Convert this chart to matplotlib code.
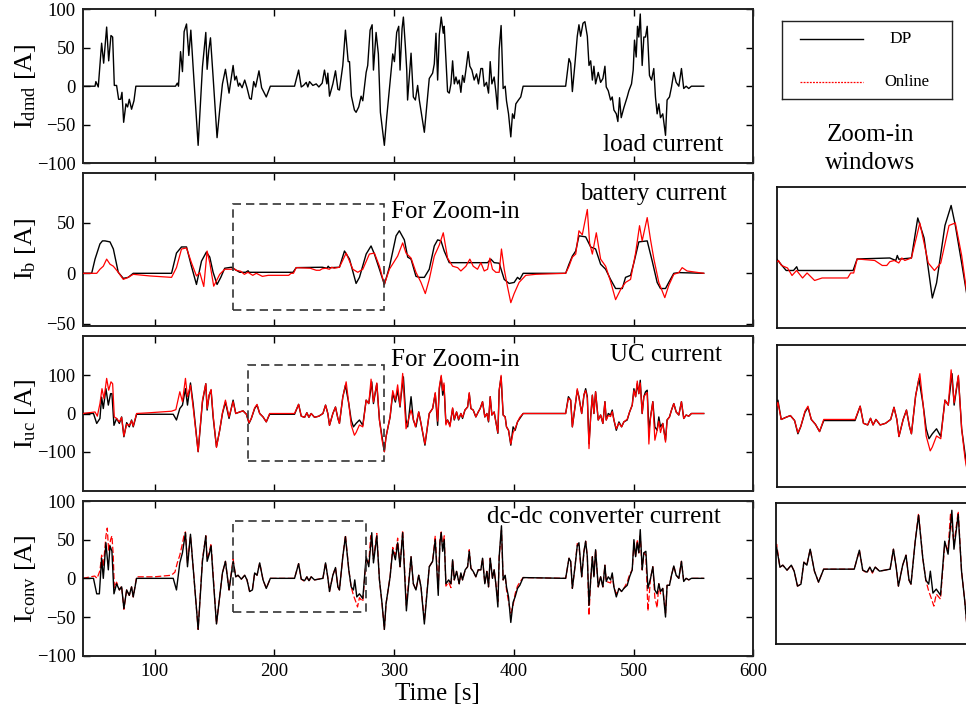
import matplotlib
matplotlib.use("Agg")
import matplotlib.pyplot as plt
from matplotlib.patches import Rectangle
from matplotlib.lines import Line2D

plt.rcParams['font.family'] = ['Liberation Serif', 'DejaVu Serif']
plt.rcParams['mathtext.fontset'] = 'custom'
plt.rcParams['mathtext.rm'] = 'Liberation Serif'
plt.rcParams['mathtext.it'] = 'Liberation Serif:italic'

# ---------------- data (time [s], current [A]) ----------------
load_pts = [(40,0),(50.3,0),(51,6),(53,-1),(55.8,56),(57.5,30),(60,77),(61.7,33),(63.6,66),(65,64),(66.4,1),(68.3,1),(70,-17),(71.7,-17),(72.8,-8),(74.2,-47),(76.1,-23),(77.5,-27),(78.9,-17),(80.8,-30),(82.8,-19),(84.4,0),(117.5,0),(119,4),(120,0),(121.7,45),(123.3,19),(124.7,71),(126.7,81),(128.6,40),(130.3,73),(132.2,25),(136.4,-77),(140,25),(142.8,70),(143.9,22),(145.3,47),(146.7,63),(148.9,12),(152.2,-67),(154.4,-31),(156.7,3),(159.2,22),(162.2,-9),(165.6,27),(167,8),(168.3,13),(170,0),(171.1,4),(173.1,-2),(175.3,8),(177.2,-2),(179.4,-16),(180.8,-17),(182.8,6),(184.4,-1),(187.2,20),(189.4,-2),(193.3,-14),(196.7,0),(216.9,0),(220.3,21),(222.5,-1),(224.4,1),(226.7,5),(228,-1),(229.4,6),(232.2,1),(235,3),(237.2,-1),(240,4),(241.9,21),(243.9,3),(244.7,17),(246.1,-13),(248.9,3),(251.1,20),(253.1,-4),(254.4,-5),(257.2,27),(259.4,73),(261.7,32),(262.8,32),(264.4,-13),(266.9,-31),(268.3,-34),(270.5,-27),(272.5,-13),(273.9,-19),(276.7,18),(278,27),(280,73),(281.7,80),(282.8,21),(285,70),(286.9,42),(288.6,-34),(291.9,-77),(293.9,-40),(297.5,18),(298.9,42),(300.3,32),(302.2,70),(303.9,78),(305,21),(306.7,75),(307.8,90),(309.4,53),(310.6,21),(311.3,-18),(314.2,43),(316.1,-14),(317.8,-18),(319.7,1),(321.1,-18),(325.3,-60),(329.4,10),(332.2,17),(333.6,29),(335,69),(336.4,8),(337.8,67),(339.4,90),(341.1,69),(341.9,78),(344.7,-7),(346.1,-9),(347.5,3),(348.9,33),(350.3,3),(351.7,12),(353.1,3),(354.4,8),(355.8,-8),(357.2,14),(358.6,5),(360,21),(361.9,45),(363.3,26),(365,21),(366.9,8),(368.9,16),(370.5,3),(372.5,23),(373.9,23),(375.3,0),(377.2,5),(378.9,-9),(380.3,32),(381.7,3),(383.6,12),(385,-7),(386.4,-30),(387.8,48),(389.4,79),(391.1,-3),(392.8,0),(393.9,-19),(395.6,-36),(397.5,-66),(398.9,-36),(400.3,-42),(401.7,-23),(403.9,-18),(405.8,-14),(407.8,0),(443.3,0),(446.1,36),(447.5,30),(448.9,-7),(451.1,30),(453,65),(454.4,80),(455.8,65),(457.8,82),(459.4,84),(461.4,65),(462.8,27),(464.2,33),(465.6,8),(466.9,26),(468.3,3),(470.5,18),(472.5,5),(474.4,10),(476.1,26),(477.2,-1),(478.9,-6),(480.8,-18),(482.2,-14),(483.6,-31),(485.6,-36),(486.9,-46),(488.3,-15),(489.7,-41),(491.9,-28),(494.7,-14),(496.1,-6),(498.3,3),(499.7,21),(500.8,60),(502.2,38),(503.3,78),(504.4,64),(505.6,94),(507.2,27),(508.6,64),(510,64),(511.4,78),(513.3,14),(515,8),(516.9,23),(518.3,-14),(519.7,-36),(521.1,-23),(522.5,-41),(524.4,-36),(526.7,-64),(528,-18),(530,-14),(531.7,-1),(533.6,18),(535.6,5),(537.8,0),(540,23),(541.9,-3),(543.9,0),(546.1,-3),(548.3,0),(558.6,0)]

batt_dp_pts = [(40,0),(47.5,0),(50.3,14),(54.4,29),(56.5,32),(58.6,32),(62.8,31),(65.6,24),(69.7,1),(73.9,-5),(78,-4),(82.2,0),(114.2,0),(118.3,20),(122.5,26),(126.7,26),(130.8,7),(135,-11),(139.2,12),(143.3,21),(146.1,16),(148.9,1),(152.2,-11),(155.3,-4),(158.6,5),(164.2,6),(166.9,4),(171.1,1),(176,1),(178.1,2.5),(179,1),(182.2,1),(215.6,1),(218.3,5.6),(240,6),(244,5),(245,7),(246,5.5),(254.4,6),(258.6,22),(262.8,14),(268.3,-10),(271.1,-4),(276.7,19),(280.8,27),(283.6,19),(287.8,4),(291.9,-11),(296.1,6),(301.7,37),(304.4,42),(308.6,33),(311.4,16),(314.2,14),(318.3,-3),(321.1,-4),(325.3,-4),(329.4,4),(333.6,27),(336.4,33),(339.2,32),(341.9,22),(346.1,10.5),(378.1,10.5),(380.8,14),(383.6,10.5),(387.8,10),(392,-6),(396.1,-10),(400.3,-9),(403.1,-4),(405,-6),(407.8,0),(443.3,0),(446.1,9),(448.9,17),(451.7,22),(454.4,37),(460,36),(464.2,26),(468.3,24),(472.5,9),(476.7,4),(480.8,-6),(485,-15),(490.6,-15),(493.3,-4),(497.5,-2),(500.3,10.5),(504.4,31),(511.4,32),(515.6,12),(519.7,-9),(522.5,-15),(526.7,-15),(529.4,-9),(533.6,0),(537.8,0.7),(558.6,0)]

batt_on_pts = [(40,0),(51.7,0),(54.4,4),(57.2,7),(60,14),(62.8,9),(65.6,7),(69.7,1),(73.9,-6),(78,-4),(82.2,-1),(96.1,-2.6),(114.2,-4),(118.3,5.6),(122.5,24),(126.7,25),(130.8,10.5),(135,-2.6),(137.8,0.7),(141.1,-13),(143.9,22),(146.1,10.5),(149.4,-12.7),(154.4,-1),(158.6,4),(164.2,4),(166,5),(168,3),(172,2),(175,-1),(178,1),(182,-2),(185,0),(190,-3),(195,-2),(212,-2),(214,0),(216,0),(218.3,5.6),(230,5),(235,3),(238,3),(240,4.5),(243,5),(246,4),(248,6),(250,5),(254.4,6),(260,20),(265.6,4),(269.7,1),(273.9,4),(279.4,19),(283.6,20),(287.8,7),(291.9,-11),(296.1,4),(303,17),(307.2,30),(310,20),(314.2,15),(318.3,1),(322.5,-9),(326.1,-20),(329.4,-6),(333.6,17),(337.8,28),(341.1,40),(344.7,15),(348.9,7),(353.1,5.6),(355.8,2.3),(360,7),(363.3,14),(366.1,7),(369.7,4),(372.5,10.5),(375.3,2.3),(378.1,4),(380,15),(382.2,4),(385,1),(387.8,1),(389.7,24),(392,4),(394.7,-13),(397.5,-29),(400.3,-20),(404.4,-9),(410,-2),(418.3,-1),(443.3,0),(446.1,7),(448.9,16),(451.7,19),(454.4,42),(457.2,38),(459.2,50),(461.4,63),(463.3,30),(465.6,19),(468.9,40),(472.5,14),(476.7,7),(480.8,-8),(485,-26),(489.2,-16),(493.3,-9),(497.5,-6),(501.7,20),(505,47),(507.2,32),(511.4,55),(514.2,33),(517,14),(521.1,-9),(526.1,-24),(529.4,-12),(533.6,-1),(537.8,0.7),(540.6,5.6),(544.7,2.3),(558.6,0)]

uc_dp_pts = [(40,0),(49,0),(51.7,-26),(54.4,-13),(55.8,43),(57.2,13),(59.4,65),(61.4,22),(63.3,52),(64.4,52),(66.1,-31),(68.3,-13),(70.6,-26),(72.5,-9),(74.4,-61),(76.7,-24),(78.9,-35),(80.8,-17),(82.2,-35),(85,-2),(115.6,-2),(118.3,-17),(121.1,13),(123.3,22),(125.8,65),(127.5,22),(130,80),(132.2,26),(136.4,-100),(140,30),(142.8,78),(143.9,9),(145.6,48),(147.2,61),(148.9,-9),(151.7,-87),(154.4,-44),(156.7,0),(159.2,30),(162.2,-13),(165.6,35),(167.8,0),(171.1,4),(173.9,7),(176.7,-2),(178.9,-26),(180.8,-13),(183.6,13),(185.6,22),(187.8,0),(190.6,-9),(193.3,-22),(196.1,-2),(216.9,-2),(220.3,24),(222.5,-7),(225.3,-10),(227.2,2),(228.9,-10),(230.8,0),(233.6,-10),(237.2,-7),(240.6,0),(242.8,22),(244.7,0),(246.1,-31),(248.9,0),(251.1,17),(253.1,-13),(254.4,-26),(257.2,43),(259.4,74),(262.2,26),(264.2,-17),(266.1,-35),(268.3,-26),(271.1,-17),(273.9,-31),(276.7,35),(278.9,26),(281.4,83),(282.8,26),(285.6,78),(287.8,-17),(290,-61),(291.9,-100),(293.3,-61),(296.7,-9),(298.9,52),(301.1,30),(303,61),(305,17),(305.8,44),(307.8,96),(310,-17),(311.4,-35),(314.2,44),(316.1,-17),(318.3,-35),(320.6,4),(322.5,-26),(325.8,-83),(329.4,0),(332.2,13),(334.4,52),(336.4,-31),(337.8,65),(339.4,96),(340.6,48),(341.7,74),(343.3,-26),(344.7,-17),(346.7,-31),(348.9,13),(350.3,-17),(352.2,4),(353.9,-17),(355.8,0),(357.2,-13),(359.2,9),(361.4,17),(362.8,52),(364.2,13),(366.1,9),(368.3,-9),(370.3,4),(371.9,13),(373.9,31),(375.8,-9),(377.5,0),(378.9,-22),(380.3,44),(381.7,-4),(383.6,4),(385,-22),(386.7,-52),(387.8,61),(389.4,96),(391.1,-4),(392.8,-9),(393.9,-35),(395.6,-44),(397.5,-83),(399.4,-35),(401.1,-44),(403.1,-22),(405,-13),(407.8,0),(443.3,0),(445.6,44),(447.5,35),(448.9,-35),(451.1,17),(453,61),(454.4,44),(456.7,0),(458.6,48),(460,65),(461.4,44),(462.8,-79),(464.2,-9),(465.6,48),(466.9,0),(468.3,57),(470.5,-17),(472.5,-4),(474.4,-26),(476.1,31),(477.2,-17),(478.9,0),(480.8,-4),(482.2,9),(483.6,-17),(485.6,-44),(487.8,-22),(490,-35),(491.9,-22),(494.7,-17),(496.7,4),(498.9,22),(500.3,65),(501.7,44),(503.1,78),(504.4,52),(505.6,87),(507.2,0),(508.6,44),(510,57),(511.4,61),(512.8,-44),(514.2,-9),(516.1,31),(517.8,-35),(519.7,-44),(521.1,-9),(522.5,-35),(524.4,-26),(526.7,-70),(528,-17),(530,-9),(531.7,9),(533.6,26),(535.6,4),(537.8,-4),(540,31),(541.9,-13),(543.9,-4),(546.1,-7),(548.3,0),(558.6,0)]

uc_on_pts = [(40,0),(50.3,4),(52.2,-7),(54.4,26),(56.1,65),(57.8,39),(60,92),(61.7,61),(63.6,83),(65,78),(66.4,-9),(68.3,-13),(70.6,-22),(72.5,-10),(74.4,-59),(76.7,-28),(78.9,-31),(80.8,-19),(82.2,-33),(85,0),(96,2),(114.2,6),(117.8,10),(121.1,57),(123.3,31),(125.8,92),(127.5,44),(130,74),(132.2,17),(136.4,-100),(140,35),(142.8,78),(143.9,13),(145.6,48),(147.2,63),(148.9,-4),(151.7,-89),(154.4,-44),(156.7,2),(159.2,35),(162.2,-9),(165.6,31),(167.8,0),(171.1,4),(173.9,7),(176.7,-2),(178.9,-24),(180.8,-13),(183.6,15),(185.6,24),(187.8,0),(190.6,-9),(193.3,-22),(196.1,0),(216.9,0),(220.3,24),(222.5,-7),(225.3,-10),(227.2,2),(228.9,-10),(230.8,0),(233.6,-10),(237.2,-7),(240.6,0),(242.8,22),(244.7,0),(246.1,-31),(248.9,0),(251.1,17),(253.1,-13),(254.4,-26),(257.2,43),(260,83),(262.2,26),(264.2,-30),(266.9,-57),(268.3,-50),(271.1,-30),(273.9,-35),(276.7,35),(278.9,26),(280.8,90),(282.8,30),(285.6,80),(287.8,-17),(290,-70),(291.9,-100),(293.3,-61),(296.7,-9),(298.9,60),(301.1,35),(303,75),(305,20),(307.2,105),(310,-40),(314.2,9),(317.8,-35),(320.6,4),(322.5,-26),(325.8,-80),(329.4,0),(332.2,13),(334.4,55),(336.4,-20),(337.8,70),(339.4,100),(340.6,60),(341.7,80),(343.3,-30),(344.7,-17),(346.7,-35),(348.9,15),(350.3,-15),(352.2,4),(353.9,-15),(355.8,0),(357.2,-10),(359.2,9),(361.4,17),(362.8,55),(364.2,13),(366.1,9),(368.3,-9),(370.3,4),(371.9,13),(373.9,31),(375.8,-9),(377.5,0),(378.9,-20),(380.3,44),(381.7,-4),(383.6,4),(385,-22),(386.7,-50),(387.8,61),(389.4,100),(391.1,-4),(392.8,-9),(393.9,-35),(395.6,-44),(397.5,-80),(399.4,-50),(401.1,-40),(403.1,-22),(405,-10),(407.8,0),(443.3,0),(445.6,40),(447.5,35),(448.9,-35),(451.1,17),(453,65),(454.4,40),(456.7,0),(458.6,50),(460,60),(461.4,40),(462.8,-92),(464.2,-9),(465.6,48),(466.9,0),(468.3,57),(470.5,-17),(472.5,-4),(474.4,-26),(476.1,31),(477.2,-17),(478.9,-5),(480.8,-8),(482.2,5),(483.6,-17),(485.6,-40),(487.8,-25),(490,-35),(491.9,-22),(494.7,-15),(496.7,4),(498.9,22),(500.3,60),(501.7,44),(503.1,85),(504.4,52),(505.6,80),(507.2,0),(508.6,44),(510,50),(511.4,55),(512.8,-80),(514.2,-9),(516.1,31),(517.8,-70),(519.7,-44),(521.1,-20),(522.5,-50),(524.4,-26),(526.7,-75),(528,-17),(530,-9),(531.7,9),(533.6,26),(535.6,4),(537.8,-4),(540,31),(541.9,-13),(543.9,-4),(546.1,-7),(548.3,0),(558.6,0)]

conv_dp_pts = [(40,0),(49,0),(51.7,-20),(53.9,-20),(55.8,26),(57.2,0),(59.4,46),(61.4,11),(62.8,42),(64.4,35),(66.1,-20),(68.3,-7),(70.6,-15),(72.5,-11),(74.4,-39),(76.7,-15),(78.9,-22),(80.8,-11),(82.2,-24),(85,0),(115.6,0),(118.3,-15),(121.1,20),(123.3,33),(125.8,59),(127.5,15),(130,57),(132.2,15),(136.4,-66),(140,22),(142.8,55),(143.9,22),(145.6,31),(147.2,42),(148.9,2),(151.7,-59),(154.4,-24),(156.7,7),(159.2,22),(162.2,-15),(165.6,22),(167.8,2),(169.7,4),(172.5,-1),(175.3,4),(177.2,-2),(179.4,-17),(181.7,-15),(183.6,7),(185.6,4),(187.8,20),(190.6,-2),(193.3,-13),(196.7,0),(216.9,0),(220.3,19),(222.5,-1),(225.3,-3),(227.2,2),(228.9,-3),(230.8,2),(233.6,-2),(237.2,-1),(240.6,0),(242.8,20),(244.7,1),(246.1,-17),(248.9,4),(251.1,14),(253.1,-11),(254.4,-15),(257.2,28),(259.4,54),(262.2,11),(264.2,-11),(266.1,-15),(267.2,-2),(268.9,-24),(271.1,-20),(273.9,-26),(276.7,28),(278.9,15),(281.4,59),(282.8,20),(285.6,55),(287.8,-2),(290,-33),(291.9,-66),(293.3,-33),(296.7,2),(298.9,37),(301.1,24),(303,46),(305,15),(307.2,59),(310.3,-42),(314.2,28),(316.1,-7),(318.3,-15),(320.6,4),(322.5,-11),(325.3,-59),(329.4,15),(332.2,22),(334.4,50),(336.9,-22),(338.3,46),(339.4,59),(340.6,35),(341.9,50),(343.3,-7),(345.6,-2),(347.5,-7),(348.9,24),(350.3,-2),(352.2,9),(354.4,-7),(355.8,7),(357.2,-2),(359.4,11),(361.4,15),(362.8,35),(364.2,13),(366.1,9),(368.3,2),(370.3,11),(372.5,11),(373.9,26),(375.8,-7),(377.5,9),(378.9,-11),(380.3,26),(382.2,0),(383.6,11),(385,-7),(386.7,-37),(387.8,28),(389.7,68),(391.1,-2),(392.8,4),(393.9,-11),(395.6,-24),(397.5,-57),(399.4,-31),(401.1,-24),(403.1,-13),(405,-9),(407.8,1),(443.3,0),(446.1,26),(447.5,22),(448.9,-13),(451.1,15),(453,42),(454.4,46),(456.7,2),(458.6,35),(460,48),(461.4,28),(462.8,-35),(464.2,-2),(465.6,28),(466.9,2),(468.3,37),(470.5,-11),(472.5,2),(474.4,-11),(476.1,17),(477.2,-4),(478.9,2),(480.8,-2),(482.2,7),(483.6,-11),(485.6,-24),(487.8,-13),(490,-17),(491.9,-13),(494.7,-9),(496.7,2),(498.9,11),(500.3,50),(501.7,28),(503.1,46),(504.4,33),(505.6,63),(507.2,11),(508.6,33),(510.3,35),(512,-13),(514.2,0),(516.1,15),(517.8,-15),(519.7,-20),(521.1,-7),(522.5,-17),(524.4,-13),(526.7,-50),(528,-9),(530,-9),(531.7,4),(533.6,16),(535.6,4),(537.8,0),(540,22),(541.9,-4),(543.9,0),(546.1,-2),(548.3,0),(558.6,0)]

conv_on_pts = [(40,0),(50,3),(52,0),(54.4,10),(55.8,30),(57.2,15),(59.4,55),(60.5,65),(61.7,35),(63.3,50),(64.4,55),(65.5,30),(66.4,-12),(68.3,-5),(70.6,-15),(72.5,-10),(74.4,-40),(76.7,-15),(78.9,-22),(80.8,-11),(82.2,-24),(85,2),(100,2),(114,4),(117,8),(119,20),(121.1,30),(123.3,45),(124.5,55),(125.8,60),(127.5,20),(130,55),(132.2,15),(136.4,-66),(140,25),(142.8,55),(143.9,25),(145.6,33),(147.2,45),(148.9,5),(151.7,-59),(154.4,-24),(156.7,7),(159.2,22),(162.2,-15),(165.6,25),(167.8,2),(169.7,4),(172.5,-1),(175.3,4),(177.2,-2),(179.4,-17),(181.7,-15),(183.6,7),(185.6,4),(187.8,20),(190.6,-2),(193.3,-13),(196.7,0),(216.9,0),(220.3,19),(222.5,-1),(225.3,-4),(227.2,2),(228.9,-4),(230.8,2),(233.6,-2),(237.2,-1),(240.6,0),(242.8,20),(244.7,1),(246.1,-17),(248.9,4),(251.1,14),(253.1,-11),(254.4,-15),(257.2,28),(259.4,56),(262.2,11),(264.2,-11),(266.1,-22),(268,-30),(269.5,-37),(271.1,-25),(273.9,-30),(276.7,25),(278.9,20),(280.5,55),(282.8,25),(285.6,58),(287.8,-2),(290,-33),(291.9,-66),(293.3,-33),(296.7,2),(298.9,40),(301.1,30),(303,52),(305,15),(307.2,62),(310.3,-35),(314.2,28),(316.1,-7),(318.3,-15),(320.6,4),(322.5,-11),(325.3,-55),(329.4,15),(332.2,22),(334.4,55),(336.9,-15),(338.3,50),(339.4,60),(340.6,40),(341.9,55),(343.3,-10),(345.6,-5),(347.5,-12),(348.9,24),(350.3,-2),(352.2,9),(354.4,-7),(355.8,7),(357.2,-2),(359.4,11),(361.4,15),(362.8,37),(364.2,13),(366.1,9),(368.3,2),(370.3,11),(372.5,11),(373.9,26),(375.8,-7),(377.5,9),(378.9,-11),(380.3,26),(382.2,0),(383.6,11),(385,-7),(386.7,-30),(387.8,28),(389.7,62),(391.1,-2),(392.8,4),(393.9,-15),(395.6,-30),(397.5,-45),(399.4,-35),(401.1,-20),(403.1,-10),(405,-5),(407.8,1),(443.3,0),(446.1,26),(447.5,22),(448.9,-13),(451.1,15),(453,45),(454.4,42),(456.7,2),(458.6,35),(460,48),(461.4,28),(462.8,-48),(464.2,-2),(465.6,28),(466.9,2),(468.3,37),(470.5,-11),(472.5,2),(474.4,-11),(476.1,17),(477.2,-4),(478.9,-5),(480.8,-6),(482.2,4),(483.6,-11),(485.6,-20),(487.8,-13),(490,-17),(491.9,-13),(494.7,-5),(496.7,5),(498.9,11),(500.3,45),(501.7,28),(503.1,50),(504.4,33),(505.6,55),(507.2,11),(508.6,33),(510.3,30),(512,-42),(514.2,0),(516.1,15),(517.8,-25),(519.7,-38),(521.1,-7),(522.5,-20),(524.4,-13),(526.7,-45),(528,-9),(530,-9),(531.7,4),(533.6,16),(535.6,4),(537.8,0),(540,22),(541.9,-4),(543.9,0),(546.1,-2),(548.3,0),(558.6,0)]

x_ticks = [100, 200, 300, 400, 500, 600]
panel_labels = [r'$\mathrm{I_{dmd}}$ [A]', r'$\mathrm{I_{b}}$ [A]',
                r'$\mathrm{I_{uc}}$ [A]', r'$\mathrm{I_{conv}}$ [A]']
panel_titles = ['load current', 'battery current', 'UC current', 'dc-dc converter current']
legend_labels = ['DP', 'Online']

def xy(pts):
    return [p[0] for p in pts], [p[1] for p in pts]

W, H = 966, 713
fig = plt.figure(figsize=(W / 100, H / 100), dpi=100)

def fbox(x0, y0, x1, y1):
    return [x0 / W, 1 - y1 / H, (x1 - x0) / W, (y1 - y0) / H]

main_boxes = [fbox(82.7, 9.4, 753.3, 163), fbox(82.7, 173, 753.3, 326),
              fbox(82.7, 336, 753.3, 491), fbox(82.7, 501, 753.3, 655.7)]
ylims = [(-100, 100), (-52, 99), (-203, 203), (-100, 100)]
yticks = [[-100, -50, 0, 50, 100], [-50, 0, 50], [-100, 0, 100], [-100, -50, 0, 50, 100]]

axes = []
for i, box in enumerate(main_boxes):
    ax = fig.add_axes(box)
    ax.set_xlim(40, 600)
    ax.set_ylim(*ylims[i])
    ax.set_xticks(x_ticks)
    ax.set_yticks(yticks[i])
    ax.tick_params(direction='in', top=True, right=True, length=5, width=1,
                   labelsize=13.5, pad=5)
    if i < 3:
        ax.tick_params(labelbottom=False)
    for s in ax.spines.values():
        s.set_linewidth(1.4)
        s.set_color('#222222')
    ax.set_ylabel(panel_labels[i], fontsize=19)
    ax.yaxis.set_label_coords(-0.066, 0.5)
    axes.append(ax)

# series
t, v = xy(load_pts)
axes[0].plot(t, v, color='black', lw=1.0)

pairs = [(batt_dp_pts, batt_on_pts, '-'), (uc_dp_pts, uc_on_pts, '-'),
         (conv_dp_pts, conv_on_pts, (0, (5, 2)))]
for k, (dp, on, ls) in enumerate(pairs):
    ax = axes[k + 1]
    t1, v1 = xy(dp)
    t2, v2 = xy(on)
    ax.plot(t1, v1, color='black', lw=1.0, zorder=3)
    ax.plot(t2, v2, color='red', lw=0.9, ls=ls, zorder=2 if k == 2 else 4)

# texts
axes[0].text(575, -77, panel_titles[0], ha='right', va='center', fontsize=18)
axes[1].text(578, 78, panel_titles[1], ha='right', va='center', fontsize=18)
axes[2].text(574, 153, panel_titles[2], ha='right', va='center', fontsize=18)
axes[3].text(572.5, 79, panel_titles[3], ha='right', va='center', fontsize=18)
axes[1].text(297.5, 61, 'For Zoom-in', ha='left', va='center', fontsize=18)
axes[2].text(297.5, 140, 'For Zoom-in', ha='left', va='center', fontsize=18)

# dashed zoom rectangles
rects = [(1, 165.5, -36, 292, 68), (2, 178, -125, 292, 128), (3, 165.5, -44, 276.7, 74)]
for idx, x0, y0, x1, y1 in rects:
    axes[idx].add_patch(Rectangle((x0, y0), x1 - x0, y1 - y0, fill=False,
                                  ls=(0, (5, 3)), lw=1.2, ec='#333333', zorder=5))

axes[3].set_xlabel('Time [s]', fontsize=18)
axes[3].xaxis.set_label_coords(0.529, -0.175)

# zoom windows
win_boxes = [fbox(777, 186.7, 980, 328), fbox(777, 345, 980, 486.7), fbox(775.7, 503.3, 980, 644)]
win_ylims = [(-22, 34.5), (-122, 135), (-75, 66)]
for k, (dp, on, ls) in enumerate(pairs):
    wx = fig.add_axes(win_boxes[k])
    t1, v1 = xy(dp)
    t2, v2 = xy(on)
    wx.plot(t1, v1, color='black', lw=1.0, zorder=3)
    wx.plot(t2, v2, color='red', lw=0.9, ls=ls, zorder=2 if k == 2 else 4)
    wx.set_xlim(165, 300)
    wx.set_ylim(*win_ylims[k])
    wx.set_xticks([])
    wx.set_yticks([])
    for s in wx.spines.values():
        s.set_linewidth(1.3)
        s.set_color('#111111')

fig.text(870 / W, 1 - 149 / H, 'Zoom-in\nwindows', ha='center', va='center',
         fontsize=18, linespacing=1.3)

# legend box
lg = fig.add_axes(fbox(781.7, 21, 951.7, 99.3))
lg.set_xlim(0, 1)
lg.set_ylim(0, 1)
lg.set_xticks([])
lg.set_yticks([])
for s in lg.spines.values():
    s.set_linewidth(1.0)
    s.set_color('#222222')
lg.add_line(Line2D([0.108, 0.476], [0.77, 0.77], color='black', lw=1.0))
lg.add_line(Line2D([0.108, 0.476], [0.22, 0.22], color='red', lw=0.9, ls=(0, (1.5, 1))))
lg.text(0.70, 0.77, legend_labels[0], ha='center', va='center', fontsize=12.5)
lg.text(0.737, 0.22, legend_labels[1], ha='center', va='center', fontsize=12)

fig.savefig('out.png', dpi=100)
